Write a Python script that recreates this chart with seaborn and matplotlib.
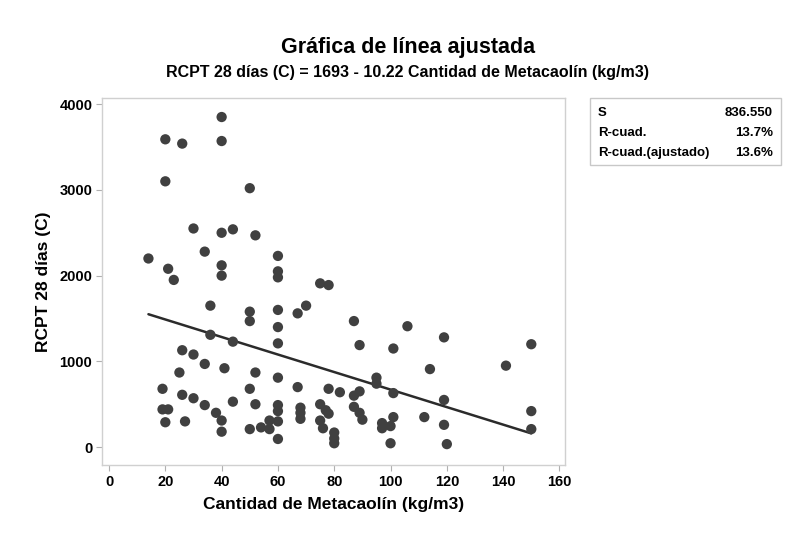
import numpy as np
import pandas as pd
import matplotlib
matplotlib.use("Agg")
import matplotlib.pyplot as plt
import seaborn as sns

# Data
metacaolin = [14, 19, 19, 20, 20, 20, 21, 21, 23, 25,
              26, 26, 26, 27, 30, 30, 30, 34, 34, 34,
              36, 36, 38, 40, 40, 40, 40, 40, 40, 40,
              41, 44, 44, 44, 50, 50, 50, 50, 50, 52,
              52, 52, 54, 57, 57, 60, 60, 60, 60, 60,
              60, 60, 60, 60, 60, 60, 67, 67, 68, 68,
              68, 70, 75, 78, 75, 75, 76, 77, 78, 78,
              82, 80, 80, 80, 87, 87, 87, 89, 89, 89,
              90, 95, 95, 97, 97, 100, 100, 101, 101, 101,
              106, 112, 114, 119, 119, 119, 120, 141, 150, 150,
              150]
rcpt = [2200, 680, 440, 3590, 3100, 290, 2080, 440, 1950, 870,
        3540, 1130, 610, 300, 2550, 1080, 570, 2280, 970, 490,
        1650, 1310, 400, 3850, 3570, 2500, 2120, 2000, 310, 180,
        920, 2540, 1230, 530, 3020, 1580, 1470, 680, 210, 2470,
        870, 500, 230, 310, 210, 2230, 2050, 1980, 1600, 1400,
        1210, 810, 490, 420, 300, 95, 1560, 700, 460, 400,
        330, 1650, 1910, 1890, 500, 310, 220, 430, 390, 680,
        640, 170, 100, 45, 1470, 600, 470, 1190, 650, 400,
        320, 810, 740, 280, 220, 245, 45, 1150, 630, 350,
        1410, 350, 910, 1280, 550, 260, 35, 950, 1200, 420,
        210]

# Fitted model given in the chart subtitle
intercept = 1693
slope = -10.22
stats_labels = ["S", "R-cuad.", "R-cuad.(ajustado)"]
stats_values = ["836.550", "13.7%", "13.6%"]
x_ticks = [0, 20, 40, 60, 80, 100, 120, 140, 160]
y_ticks = [0, 1000, 2000, 3000, 4000]

df = pd.DataFrame({"x": metacaolin, "y": rcpt})
xs = np.array([min(metacaolin), max(metacaolin)])
fit = pd.DataFrame({"x": xs, "y": intercept + slope * xs})

sns.set_style("white")
plt.rcParams["font.family"] = ["Liberation Sans", "DejaVu Sans"]
plt.rcParams["text.color"] = "black"
plt.rcParams["axes.labelcolor"] = "black"
plt.rcParams["xtick.color"] = "black"
plt.rcParams["ytick.color"] = "black"

fig = plt.figure(figsize=(7.87, 5.34), dpi=100)
ax = fig.add_axes([0.1296, 0.129, 0.5884, 0.6875])

sns.scatterplot(data=df, x="x", y="y", ax=ax, color="#404040", s=55,
                edgecolor="none", zorder=3)
sns.lineplot(data=fit, x="x", y="y", ax=ax, color="#2b2b2b", linewidth=1.8,
             zorder=2)

ax.set_xlim(-2.5, 162)
ax.set_ylim(-210, 4072)
ax.set_xticks(x_ticks)
ax.set_yticks(y_ticks)
ax.tick_params(axis="both", direction="out", length=4, width=0.8,
               bottom=True, left=True, color="#b0b0b0",
               labelcolor="black", labelsize=10.5, pad=3)
for lbl in ax.get_xticklabels() + ax.get_yticklabels():
    lbl.set_fontweight("bold")
for sp in ax.spines.values():
    sp.set_color("#d0d0d0")
    sp.set_linewidth(1.0)

ax.set_xlabel("Cantidad de Metacaolín (kg/m3)", fontsize=12.5,
              fontweight="bold", labelpad=6)
ax.set_ylabel("RCPT 28 días (C)", fontsize=12.5, fontweight="bold",
              labelpad=6)

fig.text(0.518, 0.911, "Gráfica de línea ajustada", ha="center", va="center",
         fontsize=15.5, fontweight="bold")
fig.text(0.518, 0.864,
         "RCPT 28 días (C) = 1693 - 10.22 Cantidad de Metacaolín (kg/m3)",
         ha="center", va="center", fontsize=11.5, fontweight="bold")

# Summary box
box = plt.Rectangle((0.7497, 0.691), 0.2427, 0.125, transform=fig.transFigure,
                    fill=False, edgecolor="#c8c8c8", linewidth=1.0)
fig.patches.append(box)
for i, (lab, val) in enumerate(zip(stats_labels, stats_values)):
    yy = 0.788 - i * 0.037
    fig.text(0.760, yy, lab, ha="left", va="center", fontsize=9.5,
             fontweight="bold")
    fig.text(0.982, yy, val, ha="right", va="center", fontsize=9.5,
             fontweight="bold")

fig.savefig("out.png", dpi=100, facecolor="white")
